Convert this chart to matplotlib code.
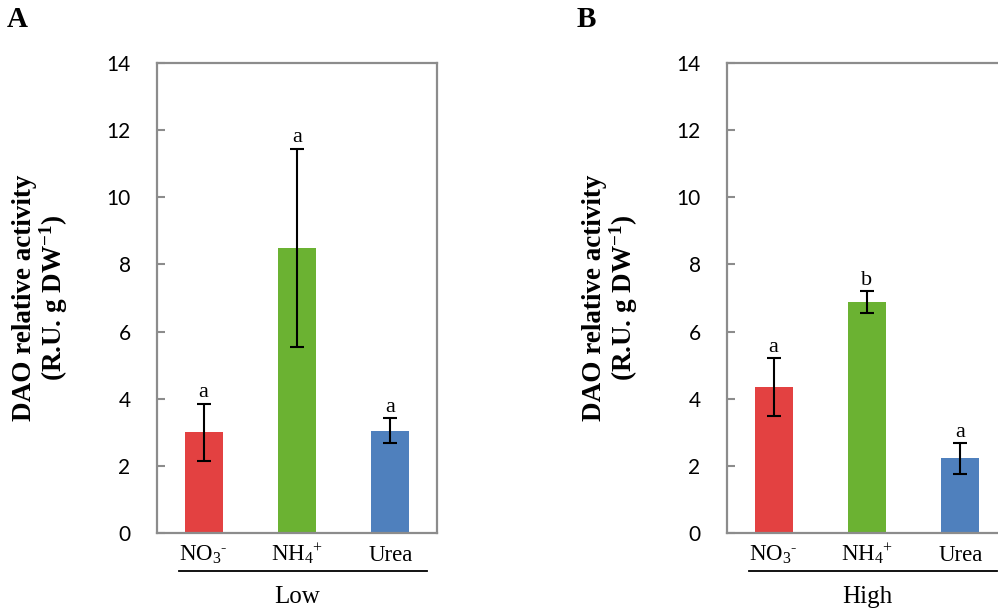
import numpy as np
import matplotlib.pyplot as plt

plt.rcParams['mathtext.fontset'] = 'custom'
plt.rcParams['mathtext.rm'] = 'Liberation Serif'
plt.rcParams['mathtext.it'] = 'Liberation Serif:italic'
plt.rcParams['mathtext.bf'] = 'Liberation Serif:bold'

# data
categories = ['NO$_{3}$$^{\u2010}$', 'NH$_{4}$$^{+}$', 'Urea']
low_values = [3.0, 8.5, 3.05]
low_errors = [0.85, 2.95, 0.37]
low_letters = ['a', 'a', 'a']
high_values = [4.35, 6.88, 2.22]
high_errors = [0.85, 0.33, 0.46]
high_letters = ['a', 'b', 'a']
yticks = [0, 2, 4, 6, 8, 10, 12, 14]

bar_colors = ['#E34141', '#6BB232', '#4F80BD']
grey = '#8C8C8C'
serif = 'Liberation Serif'

W, H = 998, 611
fig = plt.figure(figsize=(W / 100, H / 100), dpi=100)


def draw_panel(left_px, values, errors, letters, group, panel):
    ax = fig.add_axes([left_px / W, (H - 533) / H, 280 / W, 470 / H])
    x = np.arange(len(categories))
    ax.bar(x, values, width=0.41, color=bar_colors, zorder=2)
    ax.errorbar(x, values, yerr=errors, fmt='none', ecolor='black',
                elinewidth=1.5, capsize=5, capthick=1.5, zorder=3)
    for xi, v, e, t in zip(x, values, errors, letters):
        ax.annotate(t, (xi, v + e), xytext=(0, 1), textcoords='offset points',
                    ha='center', va='bottom', fontsize=16, family=serif)

    ax.set_xlim(-0.5, 2.5)
    ax.set_ylim(0, 14)
    ax.set_yticks(yticks)
    ax.set_xticks([])
    ax.tick_params(axis='y', direction='in', length=6, width=1.5, color=grey,
                   pad=19, labelsize=15)
    for lab in ax.get_yticklabels():
        lab.set_family('Lato')
    for s in ax.spines.values():
        s.set_color(grey)
        s.set_linewidth(1.6)

    # category labels under the bars
    tr = ax.get_xaxis_transform()
    for xi, c in zip(x, categories):
        ax.text(xi, -0.0596, c, transform=tr, ha='center', va='baseline',
                fontsize=16.5, family=serif, clip_on=False)

    # group line and label
    ax.plot([0.079, 0.964], [-0.081, -0.081], transform=ax.transAxes,
            color='black', lw=1.3, clip_on=False)
    ax.text(0.5, -0.149, group, transform=ax.transAxes, ha='center',
            va='baseline', fontsize=18, family=serif)

    off = left_px - 157
    fig.text((41 + off) / W, 1 - 298 / H,
             'DAO relative activity\n(R.U. g DW$^{\\mathbf{-1}}$)',
             rotation=90, ha='center', va='center', multialignment='center',
             fontsize=19.5, fontweight='bold', family=serif, linespacing=1.05)
    fig.text((7 + off) / W, 1 - 27 / H, panel, ha='left', va='baseline',
             fontsize=21, fontweight='bold', family=serif)
    return ax


draw_panel(157, low_values, low_errors, low_letters, 'Low', 'A')
draw_panel(727, high_values, high_errors, high_letters, 'High', 'B')

fig.savefig('out.png', dpi=100)
